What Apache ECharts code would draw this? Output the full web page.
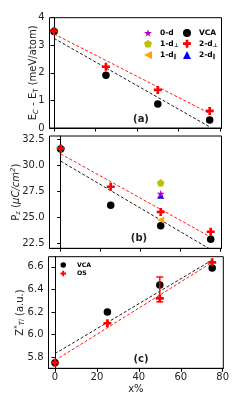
<!DOCTYPE html>
<html><head><meta charset="utf-8">
<script src="https://cdn.jsdelivr.net/npm/echarts@6/dist/echarts.min.js"></script>
<style>html,body{margin:0;padding:0;background:#fff}#c{width:240px;height:407px}</style>
</head><body><div id="c"></div>
<script>
// ---- data ----
const xPts = [0, 25, 50, 75];
const xTicks = [0, 20, 40, 60, 80];
// panel (a): E_C - E_T (meV/atom)
const vcaA = [3.50, 1.91, 0.87, 0.29];
const perpA = [3.52, 2.22, 1.38, 0.62];
const fitX = [0, 75];
const fitVcaA = [3.25, 0.04];
const fitPerpA = [3.41, 0.53];
const yTicksA = [0, 1, 2, 3, 4];
// panel (b): P_z
const vcaB = [31.55, 26.14, 24.19, 22.88];
const perpB = [31.6, 27.92, 25.5, 23.61];
const defectX = [50];
const zeroDB = [27.25];
const oneDPerpB = [28.3];
const oneDParB = [24.73];
const twoDParB = [27.1];
const fitVcaB = [30.38, 21.9];
const fitPerpB = [31.07, 23.09];
const yTicksB = [22.5, 25.0, 27.5, 30.0, 32.5];
// panel (c): Z*_Ti
const vcaC = [5.75, 6.20, 6.44, 6.59];
const osC = [5.75, 6.10, 6.32, 6.64];
const osErrC = [[50, 6.29, 6.51]];
const fitVcaC = [5.83, 6.66];
const fitOsC = [5.77, 6.64];
const yTicksC = [5.8, 6.0, 6.2, 6.4, 6.6];

const pairs = (xs, ys) => xs.map((x, i) => [x, ys[i]]);

const FONT = 'DejaVu Sans';
const TXT = '#222';
const PLUS = 'path://M-1,-3H1V-1H3V1H1V3H-1V1H-3V-1H-1Z';
const STAR = 'path://M0,-1L0.2245,-0.309L0.951,-0.309L0.363,0.118L0.588,0.809L0,0.382L-0.588,0.809L-0.363,0.118L-0.951,-0.309L-0.2245,-0.309Z';
const PENT = 'path://M0,-1L0.951,-0.309L0.588,0.809L-0.588,0.809L-0.951,-0.309Z';
const LTRI = 'path://M-1,0L1,-1L1,1Z';

const chart = echarts.init(document.getElementById('c'), null, {renderer: 'canvas'});

function xAx(idx, min, max, showLabels) {
  return {
    type: 'value', gridIndex: idx, min: min, max: max,
    splitLine: {show: false},
    axisLine: {lineStyle: {color: '#000', width: 1}},
    axisTick: {show: true, inside: false, length: 3.5, customValues: xTicks, lineStyle: {color: '#000'}},
    axisLabel: {show: showLabels, customValues: xTicks, margin: 4, fontFamily: FONT, fontSize: 10, color: TXT},
    name: showLabels ? 'x%' : '', nameLocation: 'middle', nameGap: 16, nameMoveOverlap: false,
    nameTextStyle: {fontFamily: FONT, fontSize: 10, color: TXT}
  };
}
function yAx(idx, min, max, ticks, dec, name, rich, gap) {
  return {
    type: 'value', gridIndex: idx, min: min, max: max,
    splitLine: {show: false},
    axisLine: {show: true, lineStyle: {color: '#000', width: 1}},
    axisTick: {show: true, length: 3.5, customValues: ticks, lineStyle: {color: '#000'}},
    axisLabel: {customValues: ticks, margin: 5, fontFamily: FONT, fontSize: 10, color: TXT,
      formatter: v => v.toFixed(dec)},
    name: name, nameLocation: 'middle', nameGap: gap, nameRotate: 90, nameMoveOverlap: false,
    nameTextStyle: {fontFamily: FONT, fontSize: 10, color: TXT, rich: rich}
  };
}
const mainR = {fontFamily: FONT, fontSize: 10, color: TXT, lineHeight: 12};
const subR = {fontFamily: FONT, fontSize: 7, color: TXT, lineHeight: 12, verticalAlign: 'bottom', padding: [3, 0, 0, 0]};
const supR = {fontFamily: FONT, fontSize: 7, color: TXT, lineHeight: 12, verticalAlign: 'top', padding: [0, 0, 3, 0]};
const itR = Object.assign({}, mainR, {fontStyle: 'italic'});
const itSupR = Object.assign({}, supR, {fontStyle: 'italic'});
const itSubR = Object.assign({}, subR, {fontStyle: 'italic'});

function scat(name, xi, data, symbol, size, color, z) {
  return {type: 'scatter', name: name, xAxisIndex: xi, yAxisIndex: xi, data: data,
    symbol: symbol, symbolSize: size, itemStyle: {color: color, opacity: 1}, z: z, silent: true};
}
function fit(xi, ys, color, name) {
  return {type: 'line', name: name, xAxisIndex: xi, yAxisIndex: xi, data: pairs(fitX, ys),
    symbol: 'none', clip: true, lineStyle: {color: color, width: 0.9, type: [3, 2]}, z: 1, silent: true};
}

const legendText = {fontFamily: FONT, fontSize: 7.5, fontWeight: 'bold', color: '#000', padding: [0, 0, 0, 3],
  rich: {n: {fontFamily: FONT, fontSize: 7.5, fontWeight: 'bold', color: '#000'},
         s: {fontFamily: FONT, fontSize: 5.5, fontWeight: 'bold', color: '#000', verticalAlign: 'bottom', padding: [3, 0, 0, 0]}}};
const legFmt = n => {
  if (n.endsWith('⊥') || n.endsWith('∥')) return '{n|' + n.slice(0, -1) + '}{s|' + n.slice(-1) + '}';
  return '{n|' + n + '}';
};

const option = {
  animation: false,
  backgroundColor: '#fff',
  grid: [
    {left: 49.5, top: 17.7, width: 172, height: 110.3, show: true, borderColor: '#000', borderWidth: 1, backgroundColor: 'transparent'},
    {left: 49.5, top: 136, width: 172, height: 112.3, show: true, borderColor: '#000', borderWidth: 1, backgroundColor: 'transparent'},
    {left: 48.5, top: 256.7, width: 174.8, height: 111.6, show: true, borderColor: '#000', borderWidth: 1, backgroundColor: 'transparent'}
  ],
  xAxis: [xAx(0, -2.2, 80.7, false), xAx(1, -5.6, 80.4, false), xAx(2, -3.1, 80.3, true)],
  yAxis: [
    yAx(0, 0, 4, yTicksA, 0, '{m|E}{si|C}{m| - E}{s|T}{m| (meV/atom)}', {m: mainR, s: subR, si: itSubR}, 10),
    yAx(1, 22.02, 32.79, yTicksB, 1, '{m|P}{s|z}{m| (}{i|μC/cm}{ip|2}{m|)}', {m: mainR, s: subR, i: itR, ip: itSupR}, 27.5),
    yAx(2, 5.70, 6.69, yTicksC, 1, '{m|Z}{p|*}{s|Ti}{m| (a.u.)}', {m: mainR, s: itSubR, p: supR}, 22.5)
  ],
  legend: [
    {orient: 'vertical', left: 139, top: 24, itemWidth: 8, itemHeight: 8, itemGap: 2.7,
     data: ['0-d', '1-d⊥', '1-d∥'], textStyle: legendText, formatter: legFmt, selectedMode: false},
    {orient: 'vertical', left: 178, top: 24, itemWidth: 8, itemHeight: 8, itemGap: 2.7,
     data: ['VCA', '2-d⊥', '2-d∥'], textStyle: legendText, formatter: legFmt, selectedMode: false},
    {orient: 'vertical', left: 55.5, top: 257, itemWidth: 5.5, itemHeight: 5.5, itemGap: 2.5,
     data: ['VCA', 'OS'], selectedMode: false, formatter: n => '{n|' + n + '}',
     textStyle: {fontFamily: FONT, fontSize: 6.2, fontWeight: 'bold', color: '#000', padding: [0, 0, 0, 6],
       rich: {n: {fontFamily: FONT, fontSize: 6.2, fontWeight: 'bold', color: '#000'}}}}
  ],
  graphic: [
    {type: 'text', x: 141, y: 119, style: {text: '(a)', fontFamily: FONT, fontSize: 10, fontWeight: 'bold', fill: TXT, align: 'center', verticalAlign: 'middle'}},
    {type: 'text', x: 139, y: 238.7, style: {text: '(b)', fontFamily: FONT, fontSize: 10, fontWeight: 'bold', fill: TXT, align: 'center', verticalAlign: 'middle'}},
    {type: 'text', x: 141, y: 359.3, style: {text: '(c)', fontFamily: FONT, fontSize: 10, fontWeight: 'bold', fill: TXT, align: 'center', verticalAlign: 'middle'}}
  ],
  series: [
    // panel a
    fit(0, fitVcaA, '#000'),
    fit(0, fitPerpA, '#ff0000'),
    scat('VCA', 0, pairs(xPts, vcaA), 'circle', 7.5, '#000', 3),
    scat('2-d⊥', 0, pairs(xPts, perpA), PLUS, 8, '#ff0000', 4),
    // panel b
    fit(1, fitVcaB, '#000'),
    fit(1, fitPerpB, '#ff0000'),
    scat('VCA', 1, pairs(xPts, vcaB), 'circle', 7.5, '#000', 3),
    scat('2-d⊥', 1, pairs(xPts, perpB), PLUS, 8, '#ff0000', 4),
    scat('1-d⊥', 1, pairs(defectX, oneDPerpB), PENT, 7.5, '#bfbf00', 4),
    scat('2-d∥', 1, pairs(defectX, twoDParB), 'triangle', 7, '#0000ff', 4),
    scat('0-d', 1, pairs(defectX, zeroDB), STAR, 8, '#bf00bf', 5),
    scat('1-d∥', 1, pairs(defectX, oneDParB), LTRI, 7, '#ffa500', 4),
    // panel c
    fit(2, fitVcaC, '#000'),
    fit(2, fitOsC, '#ff0000'),
    scat('VCA', 2, pairs(xPts, vcaC), 'circle', 7.5, '#000', 3),
    {type: 'custom', name: 'OS err', xAxisIndex: 2, yAxisIndex: 2, data: osErrC, z: 4, silent: true,
     renderItem: function (params, api) {
       const lo = api.coord([api.value(0), api.value(1)]);
       const hi = api.coord([api.value(0), api.value(2)]);
       const w = 3.5;
       const st = {stroke: '#ff0000', lineWidth: 1.4};
       return {type: 'group', children: [
         {type: 'line', shape: {x1: lo[0], y1: lo[1], x2: hi[0], y2: hi[1]}, style: st},
         {type: 'line', shape: {x1: lo[0] - w, y1: lo[1], x2: lo[0] + w, y2: lo[1]}, style: st},
         {type: 'line', shape: {x1: hi[0] - w, y1: hi[1], x2: hi[0] + w, y2: hi[1]}, style: st}
       ]};
     }},
    scat('OS', 2, pairs(xPts, osC), PLUS, 8, '#ff0000', 4)
  ]
};
chart.setOption(option);
</script>
</body></html>
